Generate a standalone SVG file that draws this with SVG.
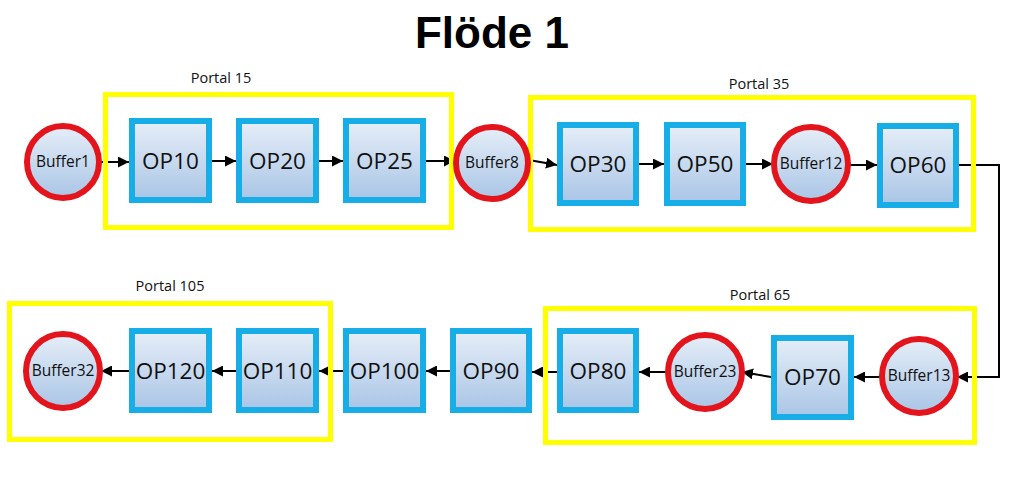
<svg xmlns="http://www.w3.org/2000/svg" width="1024" height="483" viewBox="0 0 1024 483">
<defs>
<linearGradient id="gBox" x1="0" y1="0" x2="0" y2="1">
<stop offset="0" stop-color="#e6eef8"/>
<stop offset="1" stop-color="#a9c5e6"/>
</linearGradient>
<marker id="ah" viewBox="0 0 10 10" refX="10" refY="5" markerWidth="11" markerHeight="11" markerUnits="userSpaceOnUse" orient="auto">
<path d="M0,0 L10,5 L0,10 Z" fill="#000"/>
</marker>
<style>
.op rect{fill:url(#gBox);stroke:#17ade6;stroke-width:6}
.buf circle{fill:url(#gBox);stroke:#e3141b;stroke-width:6}
.opt{font-family:"Open Sans","Liberation Sans",sans-serif;font-size:22.5px;fill:#111;text-anchor:middle}
.bt{font-family:"Open Sans","Liberation Sans",sans-serif;font-size:15.5px;fill:#111;text-anchor:middle}
.portal rect{fill:none;stroke:#ffff00;stroke-width:5}
.pt{font-family:"Open Sans","Liberation Sans",sans-serif;font-size:14.5px;fill:#111;text-anchor:middle}
.conn{fill:none;stroke:#000;stroke-width:2;marker-end:url(#ah)}
</style>
</defs>
<rect width="1024" height="483" fill="#fff"/>
<text x="492" y="48" font-family="Liberation Sans, Arial, sans-serif" font-weight="bold" font-size="44" text-anchor="middle" fill="#000">Flöde 1</text>

<g id="connectors">
<line class="conn" x1="100" y1="162" x2="129" y2="162"/>
<line class="conn" x1="212" y1="161" x2="236" y2="161"/>
<line class="conn" x1="319" y1="161" x2="343" y2="161"/>
<line class="conn" x1="426" y1="161" x2="455" y2="161"/>
<line class="conn" x1="529" y1="160" x2="557" y2="165"/>
<line class="conn" x1="639" y1="164" x2="664" y2="164"/>
<line class="conn" x1="746" y1="164" x2="773" y2="164"/>
<line class="conn" x1="849" y1="165" x2="877" y2="165"/>
<polyline class="conn" points="959,165 999,165 999,377 957,377"/>
<line class="conn" x1="882" y1="377" x2="854" y2="377"/>
<line class="conn" x1="771" y1="377" x2="742" y2="372"/>
<line class="conn" x1="668" y1="372" x2="639" y2="372"/>
<line class="conn" x1="557" y1="372" x2="532" y2="372"/>
<line class="conn" x1="450" y1="371" x2="426" y2="371"/>
<line class="conn" x1="343" y1="371" x2="319" y2="371"/>
<line class="conn" x1="236" y1="371" x2="212" y2="371"/>
<line class="conn" x1="129" y1="371" x2="101" y2="371"/>
</g>

<g id="portal15" class="portal"><rect x="105.5" y="94.5" width="346" height="133"/><text class="pt" x="221" y="83">Portal 15</text></g>
<g id="portal35" class="portal"><rect x="530.5" y="97.5" width="443" height="132"/><text class="pt" x="759" y="89">Portal 35</text></g>
<g id="portal65" class="portal"><rect x="545.5" y="308.5" width="429" height="134"/><text class="pt" x="760" y="300">Portal 65</text></g>
<g id="portal105" class="portal"><rect x="9.5" y="303.5" width="321" height="136"/><text class="pt" x="170" y="291">Portal 105</text></g>

<g id="buffer1" class="buf"><circle cx="63" cy="162" r="36"/><text class="bt" x="63" y="167">Buffer1</text></g>
<g id="op10" class="op"><rect x="132" y="121" width="77" height="79"/><text class="opt" x="170.5" y="169">OP10</text></g>
<g id="op20" class="op"><rect x="239" y="121" width="77" height="79"/><text class="opt" x="277.5" y="169">OP20</text></g>
<g id="op25" class="op"><rect x="346" y="121" width="77" height="79"/><text class="opt" x="384.5" y="169">OP25</text></g>
<g id="buffer8" class="buf"><circle cx="492" cy="163" r="36"/><text class="bt" x="492" y="168">Buffer8</text></g>
<g id="op30" class="op"><rect x="560" y="125" width="76" height="78"/><text class="opt" x="598" y="172">OP30</text></g>
<g id="op50" class="op"><rect x="667" y="125" width="76" height="78"/><text class="opt" x="705" y="172">OP50</text></g>
<g id="buffer12" class="buf"><circle cx="811" cy="164" r="37"/><text class="bt" x="811" y="169">Buffer12</text></g>
<g id="op60" class="op"><rect x="880" y="126" width="76" height="79"/><text class="opt" x="918" y="173">OP60</text></g>

<g id="buffer13" class="buf"><circle cx="919" cy="376" r="37"/><text class="bt" x="919" y="381">Buffer13</text></g>
<g id="op70" class="op"><rect x="774" y="338" width="77" height="79"/><text class="opt" x="812.5" y="385">OP70</text></g>
<g id="buffer23" class="buf"><circle cx="705" cy="372" r="37"/><text class="bt" x="705" y="377">Buffer23</text></g>
<g id="op80" class="op"><rect x="560" y="331" width="76" height="79"/><text class="opt" x="598" y="379">OP80</text></g>
<g id="op90" class="op"><rect x="453" y="331" width="76" height="79"/><text class="opt" x="491" y="379">OP90</text></g>
<g id="op100" class="op"><rect x="346" y="331" width="77" height="79"/><text class="opt" x="384.5" y="379">OP100</text></g>
<g id="op110" class="op"><rect x="239" y="331" width="77" height="79"/><text class="opt" x="277.5" y="379">OP110</text></g>
<g id="op120" class="op"><rect x="132" y="331" width="77" height="79"/><text class="opt" x="170.5" y="379">OP120</text></g>
<g id="buffer32" class="buf"><circle cx="63" cy="371" r="37"/><text class="bt" x="63" y="376">Buffer32</text></g>
</svg>
